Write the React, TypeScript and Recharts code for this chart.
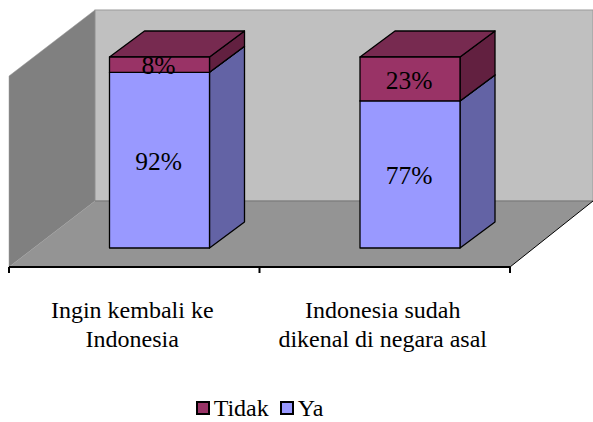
import React from 'react';
import { BarChart, Bar, XAxis, YAxis, Legend, LabelList, usePlotArea } from 'recharts';

const categories = ['Ingin kembali ke\nIndonesia', 'Indonesia sudah\ndikenal di negara asal'];
const yaValues = [0.92, 0.77];
const tidakValues = [0.08, 0.23];
const data = categories.map((name, i) => ({ name, Ya: yaValues[i], Tidak: tidakValues[i] }));

const FONT = '"Liberation Serif", "Times New Roman", serif';
// 3D projection
const BAR_DX = 35;
const BAR_DY = 26;
const FLOOR_DX = 86;
const FLOOR_DY = 66;
const SHIFT_X = 25.5;
const SHIFT_Y = 19;

const palette: Record<string, { front: string; side: string; top: string }> = {
  Ya: { front: '#9999FF', side: '#6363A5', top: '#7272BE' },
  Tidak: { front: '#993366', side: '#622040', top: '#772A50' },
};

function Room() {
  const p = usePlotArea();
  if (!p) return null;
  const l = p.x;
  const r = p.x + p.width;
  const t = p.y;
  const b = p.y + p.height;
  const backRight = r + FLOOR_DX - 3;
  const ticks = categories.map((_, i) => l + (i * p.width) / categories.length).concat(r);
  return (
    <g>
      <rect x={l + FLOOR_DX} y={t - FLOOR_DY} width={backRight - l - FLOOR_DX} height={p.height} fill="#C0C0C0" stroke="#9a9a9a" strokeWidth={1} />
      <polygon
        points={`${l},${t} ${l + FLOOR_DX},${t - FLOOR_DY} ${l + FLOOR_DX},${b - FLOOR_DY} ${l},${b}`}
        fill="#808080"
        stroke="#9a9a9a"
        strokeWidth={0.5}
      />
      <polygon
        points={`${l},${b} ${l + FLOOR_DX},${b - FLOOR_DY} ${backRight},${b - FLOOR_DY} ${r},${b}`}
        fill="#949494"
      />
      <line x1={l + FLOOR_DX} y1={b - FLOOR_DY} x2={backRight} y2={b - FLOOR_DY} stroke="#777" strokeWidth={1} />
      <line x1={r} y1={b} x2={backRight} y2={b - FLOOR_DY} stroke="#000" strokeWidth={1} />
      {ticks.map((x) => (
        <line key={x} x1={x} y1={b} x2={x} y2={b + 6} stroke="#000" strokeWidth={2} />
      ))}
    </g>
  );
}

function Cuboid(props: any) {
  const { x, y, width, height, dataKey } = props;
  const c = palette[dataKey];
  const fx = x + SHIFT_X;
  const fy = y - SHIFT_Y;
  const rx = fx + width;
  const by = fy + height;
  return (
    <g stroke="#000" strokeWidth={1.3} strokeLinejoin="round">
      <polygon points={`${rx},${fy} ${rx + BAR_DX},${fy - BAR_DY} ${rx + BAR_DX},${by - BAR_DY} ${rx},${by}`} fill={c.side} />
      <polygon points={`${fx},${fy} ${fx + BAR_DX},${fy - BAR_DY} ${rx + BAR_DX},${fy - BAR_DY} ${rx},${fy}`} fill={c.top} />
      <rect x={fx} y={fy} width={width} height={height} fill={c.front} />
    </g>
  );
}

function ValueLabel(props: any) {
  const { x, y, width, height, value } = props;
  return (
    <text
      x={x + width / 2 + SHIFT_X - 1}
      y={y + height / 2 - SHIFT_Y + 4}
      textAnchor="middle"
      dominantBaseline="middle"
      fontFamily={FONT}
      fontSize={25.5}
      fill="#000"
    >
      {`${Math.round(value * 100)}%`}
    </text>
  );
}

function CategoryTick(props: any) {
  const { x, y, payload } = props;
  const lines = String(payload.value).split('\n');
  return (
    <text x={x - 2} y={y + 45} textAnchor="middle" fontFamily={FONT} fontSize={24} fill="#000">
      {lines.map((line, i) => (
        <tspan key={line} x={x - 2} dy={i === 0 ? 0 : 29}>
          {line}
        </tspan>
      ))}
    </text>
  );
}

function LegendBox(props: any) {
  const items = [...(props.payload || [])].sort((a: any, b: any) => String(a.value).localeCompare(String(b.value)));
  return (
    <div style={{ display: 'flex', justifyContent: 'center', alignItems: 'center', fontFamily: FONT, fontSize: 24, color: '#000', paddingLeft: 0, lineHeight: '28px' }}>
      {items.map((it: any, i: number) => (
        <span key={it.value} style={{ display: 'inline-flex', alignItems: 'center', marginLeft: i ? 11 : 0 }}>
          <span style={{ width: 10, height: 10, border: '2.5px solid #000', background: it.color, marginRight: 4, display: 'inline-block' }} />
          {it.value}
        </span>
      ))}
    </div>
  );
}

export default function App() {
  return (
    <div style={{ position: 'absolute', left: 0, top: 0, background: '#fff' }}>
      <BarChart
        width={593}
        height={422}
        data={data}
        margin={{ top: 76, right: 83, bottom: 95, left: 9 }}
        barSize={100}
      >
        <Room />
        <XAxis
          dataKey="name"
          height={60}
          interval={0}
          axisLine={{ stroke: '#000', strokeWidth: 2 }}
          tickLine={false}
          tick={<CategoryTick />}
          tickMargin={0}
        />
        <YAxis hide domain={[0, 1]} />
        <Legend
          verticalAlign="middle"
          content={<LegendBox />}
          wrapperStyle={{ top: 394, left: 0, width: 519, height: 28 }}
        />
        <Bar dataKey="Ya" stackId="a" fill="#9999FF" isAnimationActive={false} shape={<Cuboid dataKey="Ya" />}>
          <LabelList dataKey="Ya" content={<ValueLabel />} />
        </Bar>
        <Bar dataKey="Tidak" stackId="a" fill="#993366" isAnimationActive={false} shape={<Cuboid dataKey="Tidak" />}>
          <LabelList dataKey="Tidak" content={<ValueLabel />} />
        </Bar>
      </BarChart>
    </div>
  );
}
